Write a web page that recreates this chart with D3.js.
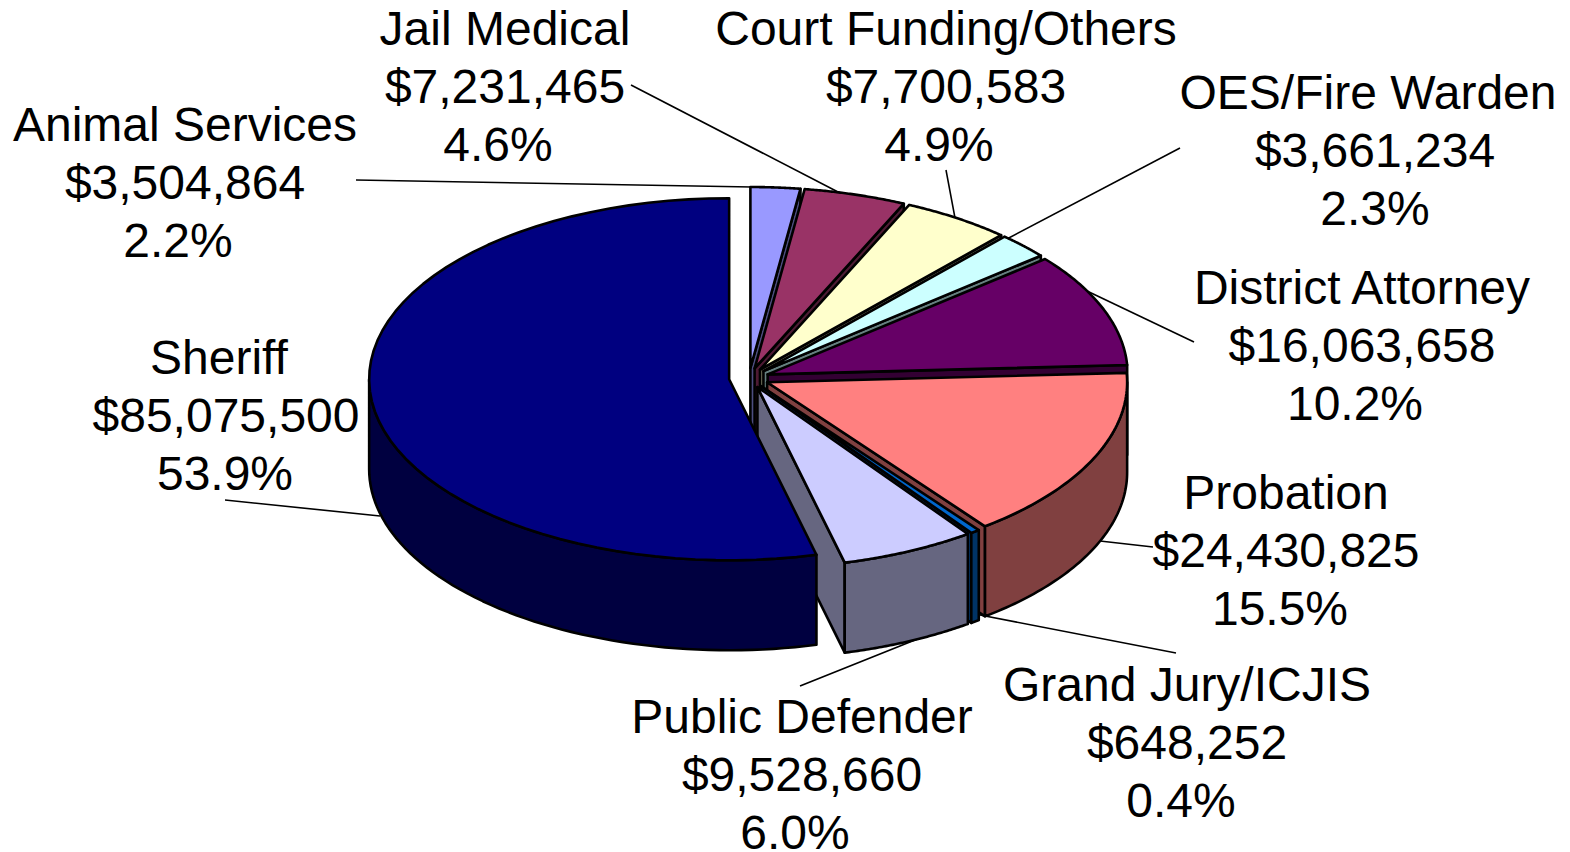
<!DOCTYPE html>
<html>
<head>
<meta charset="utf-8">
<script src="https://cdn.jsdelivr.net/npm/d3@7"></script>
<style>
html,body{margin:0;padding:0;background:#fff;overflow:hidden}
svg{display:block}
text{font-family:"Liberation Sans",Arial,sans-serif;font-size:48px;fill:#000;text-anchor:middle}
</style>
</head>
<body>
<script>
// Chart data (clockwise from 12 o'clock)
const categories = ["Animal Services","Jail Medical","Court Funding/Others","OES/Fire Warden","District Attorney","Probation","Grand Jury/ICJIS","Public Defender","Sheriff"];
const amounts = [3504864,7231465,7700583,3661234,16063658,24430825,648252,9528660,85075500];
const amountLabels = ["$3,504,864","$7,231,465","$7,700,583","$3,661,234","$16,063,658","$24,430,825","$648,252","$9,528,660","$85,075,500"];
const percentLabels = ["2.2%","4.6%","4.9%","2.3%","10.2%","15.5%","0.4%","6.0%","53.9%"];
const colors = ["#9999FF","#993366","#FFFFCC","#CCFFFF","#660066","#FF8080","#0066CC","#CCCCFF","#000080"];

// Layout: centre x of each label line, first baseline, leader ends
const labelX = [[185,185,178],[505,505,498],[946,946,939],[1368,1375,1375],[1362,1362,1355],[1286,1286,1280],[1187,1187,1181],[802,802,795],[219,226,225]];
const labelY = [141,45,45,109,304,509,701,733,374];
const leaders = [[[356,180],[752,187]],[[631,85],[840,193]],[[946,170],[955,218]],[[1180,148],[1005,240]],[[1087,291],[1194,342]],[[1100,541],[1153,547]],[[980,615],[1176,653]],[[800,686],[940,630]],[[225,500],[380,516]]];

const W = 1570, H = 852, LINE = 58;
const cx = 749, cy = 378, rx = 360, ry = 181, depth = 90, explode = 20;

const sx = d3.scaleLinear().domain([-1,1]).range([-rx,rx]);
const sy = d3.scaleLinear().domain([-1,1]).range([-ry,ry]);

const pie = d3.pie().value(d=>d).sort(null).startAngle(0).endAngle(2*Math.PI);
const arcs = pie(amounts);

const line = d3.line().x(d=>d[0]).y(d=>d[1]);
const svg = d3.select("body").append("svg").attr("width",W).attr("height",H).attr("viewBox",`0 0 ${W} ${H}`);

// Leader lines sit behind the pie
svg.append("g").selectAll("line").data(leaders).join("line")
  .attr("x1",d=>d[0][0]).attr("y1",d=>d[0][1]).attr("x2",d=>d[1][0]).attr("y2",d=>d[1][1])
  .attr("stroke","#000").attr("stroke-width",1.6);

const shade = c => d3.interpolateRgb(c,"#000")(0.5);
const pieG = svg.append("g");
const style = (sel,fill) => sel.attr("fill",fill).attr("stroke","#000").attr("stroke-width",2.6).attr("stroke-linejoin","round");

arcs.forEach((a,i)=>{
  const mid = (a.startAngle+a.endAngle)/2;
  const ox = cx + explode*Math.sin(mid);
  const oy = cy - explode*Math.cos(mid)*0.5;
  const pt = (ang,dy=0) => [ox+sx(Math.sin(ang)), oy-sy(Math.cos(ang))+dy];
  const arcPts = (a0,a1,dy=0) => d3.range(0,61).map(k=>pt(a0+(a1-a0)*k/60,dy));
  const isSheriff = i===arcs.length-1;
  // end wall
  if(!isSheriff){
    const p=pt(a.endAngle), q=pt(a.endAngle,depth);
    style(pieG.append("path").attr("d",line([[ox,oy],p,q,[ox,oy+depth]])+"Z"),shade(colors[i]));
  }
  // outer rim, front half only
  const r0=Math.max(a.startAngle,Math.PI/2), r1=Math.min(a.endAngle,3*Math.PI/2);
  if(r1>r0){
    const pts=arcPts(r0,r1).concat(arcPts(r1,r0,depth));
    style(pieG.append("path").attr("d",line(pts)+"Z"),shade(colors[i]));
  }
  // top face
  style(pieG.append("path").attr("d",line([[ox,oy],...arcPts(a.startAngle,a.endAngle)])+"Z"),colors[i]);
});

// Labels
const labels = svg.append("g");
categories.forEach((c,i)=>{
  [c,amountLabels[i],percentLabels[i]].forEach((t,j)=>{
    labels.append("text").attr("x",labelX[i][j]).attr("y",labelY[i]+j*LINE).text(t);
  });
});
</script>
</body>
</html>
